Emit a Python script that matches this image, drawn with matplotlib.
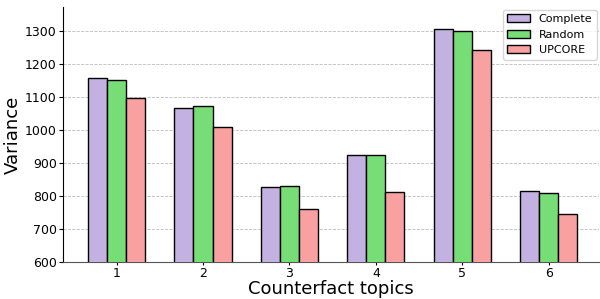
import numpy as np
import matplotlib.pyplot as plt

topics = [1, 2, 3, 4, 5, 6]
complete = [1158, 1068, 828, 924, 1306, 816]
random_sel = [1153, 1073, 831, 925, 1300, 808]
upcore = [1097, 1009, 760, 812, 1242, 745]

x = np.arange(1, len(topics) + 1)
width = 0.22

fig, ax = plt.subplots(figsize=(6, 2.99), dpi=100)
ax.bar(x - width, complete, width, color='#c3b1e1', edgecolor='black', label='Complete', zorder=3)
ax.bar(x, random_sel, width, color='#77dd77', edgecolor='black', label='Random', zorder=3)
ax.bar(x + width, upcore, width, color='#f9a0a0', edgecolor='black', label='UPCORE', zorder=3)

ax.set_xticks(x)
ax.set_xticklabels([str(t) for t in topics], fontsize=9)
ax.tick_params(axis='y', labelsize=9, length=3, pad=1.5)
ax.tick_params(axis='x', length=2.5, pad=1.5)
ax.set_ylim(600, 1372)
ax.set_xlim(0.38, 6.58)
ax.set_xlabel('Counterfact topics', fontsize=13, labelpad=0)
ax.set_ylabel('Variance', fontsize=13, labelpad=2)
ax.yaxis.grid(True, linestyle='--', color='#bbbbbb', linewidth=0.6, zorder=0)
ax.spines['top'].set_visible(False)
ax.spines['right'].set_visible(False)
ax.spines['bottom'].set_color('#555555')
ax.legend(fontsize=8, loc='upper right', borderaxespad=0.2)

fig.subplots_adjust(left=0.105, right=0.998, bottom=0.124, top=0.975)
plt.savefig('out.png')
